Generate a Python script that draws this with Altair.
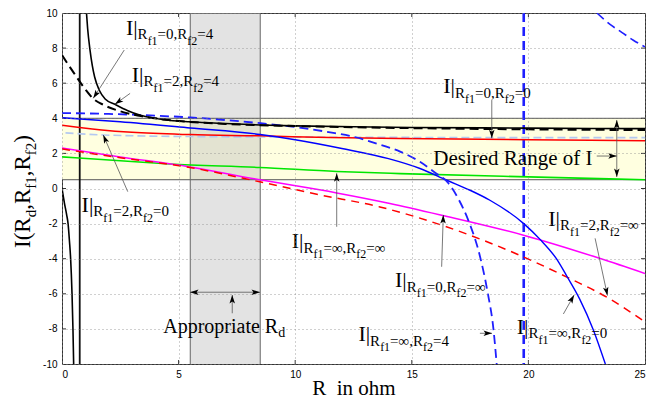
import math
import altair as alt
import pandas as pd

# ---------------- data ----------------
x_ticks = [0, 5, 10, 15, 20, 25]
y_ticks = [-10, -8, -6, -4, -2, 0, 2, 4, 6, 8, 10]

desired_range = [0.5, 4.0]      # "Desired Range of I"
appropriate_rd = [5.5, 8.5]     # "Appropriate R_d"

asym_black_x = [0.76]
asym_blue_x = [19.8]

k_solid_r_x = [1.05, 1.1, 1.2, 1.3, 1.4, 1.6, 1.85, 2.27, 2.8, 3.3, 4.4, 5.5, 7.0, 8.5, 10.0, 12.5, 15.0, 20.0, 25.0]
k_solid_r_y = [10.0, 9.1, 7.9, 7.0, 6.35, 5.6, 5.1, 4.8, 4.45, 4.2, 3.92, 3.8, 3.7, 3.62, 3.57, 3.52, 3.48, 3.44, 3.41]
k_solid_l_x = [0.0, 0.1, 0.2, 0.26, 0.32, 0.37, 0.43, 0.47, 0.5]
k_solid_l_y = [0.0, -0.8, -1.5, -2.0, -3.0, -4.0, -6.0, -8.0, -10.0]

k_dash_x = [0.0, 0.5, 1.0, 1.33, 1.8, 2.5, 3.5, 5.0, 7.0, 10.0, 15.0, 20.0, 25.0]
k_dash_y = [7.6, 6.6, 5.65, 5.13, 4.75, 4.4, 4.1, 3.85, 3.68, 3.56, 3.44, 3.37, 3.33]

b_dash_x = [0.0, 2.0, 4.0, 5.5, 7.0, 8.5, 10.0, 11.5, 12.5, 13.5, 14.5, 15.35, 16.0, 16.57, 17.0, 17.42, 17.93, 18.25, 18.5, 18.64]
b_dash_y = [4.3, 4.25, 4.15, 4.05, 3.9, 3.72, 3.5, 3.2, 2.95, 2.56, 2.1, 1.52, 0.9, 0.3, -0.6, -1.8, -3.9, -5.9, -8.0, -10.0]
b_dash2_x = [22.94, 23.5, 24.0, 24.5, 25.0]
b_dash2_y = [10.0, 9.35, 8.9, 8.45, 8.07]

b_solid_x = [0.0, 2.5, 5.5, 8.5, 10.0, 12.0, 14.0, 15.35, 16.5, 17.5, 18.35, 19.8, 20.5, 21.2, 21.65, 22.2, 22.79, 23.3]
b_solid_y = [4.03, 3.8, 3.45, 3.08, 2.78, 2.28, 1.7, 1.14, 0.47, -0.1, -0.67, -2.0, -2.9, -4.0, -5.0, -6.3, -8.07, -10.0]

r_solid_x = [0.0, 1.6, 3.0, 5.5, 8.5, 11.5, 14.5, 20.0, 25.0]
r_solid_y = [3.6, 3.35, 3.2, 3.07, 3.0, 2.9, 2.85, 2.78, 2.72]

lb_dash_x = [0.15, 1.76, 5.5, 10.0, 15.0, 20.0, 25.0]
lb_dash_y = [3.17, 3.05, 2.96, 2.93, 2.91, 2.9, 2.9]

g_solid_x = [0.0, 2.5, 4.62, 8.48, 11.78, 14.5, 20.0, 25.0]
g_solid_y = [1.8, 1.58, 1.4, 1.2, 0.97, 0.85, 0.66, 0.5]

m_solid_x = [0.0, 2.5, 5.48, 8.48, 11.78, 14.06, 16.28, 19.79, 23.08, 25.0]
m_solid_y = [2.31, 1.8, 1.23, 0.5, -0.25, -0.85, -1.52, -2.66, -3.99, -4.84]

r_dash_x = [0.0, 2.5, 5.48, 8.48, 11.0, 13.63, 16.28, 19.79, 21.65, 23.37, 25.0]
r_dash_y = [2.25, 1.75, 1.2, 0.38, -0.35, -1.05, -2.09, -3.9, -5.05, -6.2, -7.6]

# annotation arrows: start (x, y) -> tip (x, y), double-headed?
arrows = [
    (2.67, 7.89, 1.34, 5.14, False),
    (2.92, 5.42, 2.27, 4.80, False),
    (18.43, 5.04, 18.43, 2.86, False),
    (22.93, 1.85, 23.79, 1.85, False),
    (23.79, 3.90, 23.79, 0.66, True),
    (2.82, -0.18, 1.77, 3.05, False),
    (11.78, -2.18, 11.78, 0.87, False),
    (16.28, -4.46, 16.35, -1.51, False),
    (22.86, -2.84, 23.39, -6.10, False),
    (17.92, -8.25, 18.44, -8.25, False),
    (21.50, -7.15, 21.96, -6.07, False),
    (5.49, -5.91, 8.49, -5.91, True),
    (7.30, -7.11, 7.30, -6.07, False),
]

# curve labels: (x, y of "I|" baseline), R_f1 value, R_f2 value
INF = "\u221e"
curve_labels = [
    (2.74, 8.75, "0", "4"),
    (2.99, 6.09, "2", "4"),
    (16.35, 5.42, "0", "0"),
    (0.84, -1.32, "2", "0"),
    (9.85, -3.41, INF, INF),
    (14.28, -5.63, "0", INF),
    (20.85, -2.12, "2", INF),
    (12.71, -8.69, INF, "4"),
    (19.50, -8.29, INF, "0"),
]

# ---------------- geometry / style ----------------
W, H = 583, 351
PXX = W / 25.0
PXY = H / 20.0
SERIF = "Liberation Serif"
SANS = "Liberation Sans"

CW = {"I": 0.333, "|": 0.2, "R": 0.667, "f": 0.333, "0": 0.5, "1": 0.5, "2": 0.5,
      "4": 0.5, "=": 0.564, ",": 0.25, INF: 0.713, "d": 0.5, "(": 0.333, ")": 0.333,
      " ": 0.25, "\u00a0": 0.25, "A": 0.722, "p": 0.5, "r": 0.333, "o": 0.5,
      "i": 0.278, "a": 0.444, "t": 0.278, "e": 0.444}

def tw(s, size):
    return sum(CW.get(c, 0.5) for c in s) * size

xs = alt.Scale(domain=[0, 25], nice=False, zero=False)
ys = alt.Scale(domain=[-10, 10], nice=False, zero=False)
x_axis = alt.Axis(values=x_ticks, title="R\u00a0\u00a0in ohm", grid=True, gridDash=[1, 3],
                  gridColor="#888", gridWidth=0.8, ticks=False, domain=False,
                  labelFont=SANS, labelFontSize=10, labelColor="black", labelPadding=5,
                  labelExpr="'' + datum.value",
                  titleFont=SERIF, titleFontSize=21, titleFontWeight="normal",
                  titleColor="black", titleY=30, titleBaseline="alphabetic", zindex=1)
y_axis = alt.Axis(values=y_ticks, title=None, grid=True, gridDash=[1, 3],
                  gridColor="#888", gridWidth=0.8, ticks=False, domain=False,
                  labelFont=SANS, labelFontSize=10, labelColor="black", labelPadding=5,
                  labelExpr="'' + datum.value", zindex=1)
X = alt.X("x:Q", scale=xs, axis=x_axis)
Y = alt.Y("y:Q", scale=ys, axis=y_axis)

layers = []

# bands
band_y = pd.DataFrame({"x": [0.0], "x2": [25.0], "y": [desired_range[0]], "y2": [desired_range[1]]})
layers.append(alt.Chart(band_y).mark_rect(color="#FFFFE0").encode(
    x=X, x2="x2:Q", y=Y, y2="y2:Q"))
band_g = pd.DataFrame({"x": [appropriate_rd[0]], "x2": [appropriate_rd[1]], "y": [-10.0], "y2": [10.0]})
layers.append(alt.Chart(band_g).mark_rect(color="#BDBDBD", opacity=0.42).encode(
    x=X, x2="x2:Q", y=Y, y2="y2:Q"))
layers.append(alt.Chart(pd.DataFrame({"y": desired_range})).mark_rule(
    color="#555", strokeWidth=1).encode(y=Y))
layers.append(alt.Chart(pd.DataFrame({"x": appropriate_rd})).mark_rule(
    color="#666", strokeWidth=1).encode(x=X))

# inward ticks
tick_rows = []
for t in x_ticks[1:-1]:
    tick_rows.append({"x": t, "x2": t, "y": -10.0, "y2": -10.0 + 4 / PXY})
    tick_rows.append({"x": t, "x2": t, "y": 10.0, "y2": 10.0 - 4 / PXY})
for t in y_ticks[1:-1]:
    tick_rows.append({"x": 0.0, "x2": 4 / PXX, "y": t, "y2": t})
    tick_rows.append({"x": 25.0, "x2": 25.0 - 4 / PXX, "y": t, "y2": t})
layers.append(alt.Chart(pd.DataFrame(tick_rows)).mark_rule(color="#333", strokeWidth=1).encode(
    x=X, x2="x2:Q", y=Y, y2="y2:Q"))

# vertical asymptotes
layers.append(alt.Chart(pd.DataFrame({"x": asym_black_x})).mark_rule(
    color="#111", strokeWidth=1.8).encode(x=X))
layers.append(alt.Chart(pd.DataFrame({"x": asym_blue_x})).mark_rule(
    color="#1f1fff", strokeWidth=2.6, strokeDash=[9, 5]).encode(x=X))

def line(xv, yv, color, width, dash=None):
    df = pd.DataFrame({"x": xv, "y": yv, "i": list(range(len(xv)))})
    kw = dict(color=color, strokeWidth=width, clip=True, interpolate="monotone")
    if dash:
        kw["strokeDash"] = dash
    return alt.Chart(df).mark_line(**kw).encode(x=X, y=Y, order=alt.Order("i:Q"))

layers += [
    line(g_solid_x, g_solid_y, "#00E600", 1.6),
    line(lb_dash_x, lb_dash_y, "#B4C8F0", 1.6, [8, 4]),
    line(r_solid_x, r_solid_y, "#FF0000", 1.5),
    line(m_solid_x, m_solid_y, "#FF00FF", 1.5),
    line(r_dash_x, r_dash_y, "#FF0000", 1.5, [8, 6]),
    line(b_solid_x, b_solid_y, "#0000FF", 1.4),
    line(b_dash_x, b_dash_y, "#1f1fff", 1.8, [9, 5]),
    line(b_dash2_x, b_dash2_y, "#1f1fff", 1.6, [9, 5]),
    line(k_solid_r_x, k_solid_r_y, "#000000", 1.6),
    line(k_solid_l_x, k_solid_l_y, "#000000", 1.6),
    line(k_dash_x, k_dash_y, "#000000", 2.0, [9, 5]),
]

# arrows
seg_rows, head_rows = [], []
HS = 100
half = math.sqrt(HS) / 2

def head(xa, ya, xb, yb):
    # head at (xb, yb) pointing from a to b (screen pixels)
    dxp = (xb - xa) * PXX
    dyp = -(yb - ya) * PXY
    n = math.hypot(dxp, dyp)
    ux, uy = dxp / n, dyp / n
    ang = math.degrees(math.atan2(ux, -uy)) % 360
    head_rows.append({"x": xb - ux * half / PXX, "y": yb + uy * half / PXY, "ang": ang})

for x1, y1, x2, y2, both in arrows:
    seg_rows.append({"x": x1, "y": y1, "x2": x2, "y2": y2})
    head(x1, y1, x2, y2)
    if both:
        head(x2, y2, x1, y1)

layers.append(alt.Chart(pd.DataFrame(seg_rows)).mark_rule(color="#555", strokeWidth=0.8).encode(
    x=X, y=Y, x2="x2:Q", y2="y2:Q"))
layers.append(alt.Chart(pd.DataFrame(head_rows)).mark_point(
    shape="M0,-1L0.55,0.7L0,0.3L-0.55,0.7Z", filled=True, color="black", opacity=1,
    size=HS, strokeWidth=0).encode(x=X, y=Y, angle=alt.Angle("ang:Q", scale=None)))

# text labels with sub / sub-sub scripts
text_rows = []
LV = {0: (22, 0.0), 1: (15, 4.5), 2: (12, 10.0)}

def build(x0, y0, pieces, levels):
    dx = 0.0
    for txt, lvl in pieces:
        size, dy = levels[lvl]
        text_rows.append({"x": x0 + dx / PXX, "y": y0 - dy / PXY, "text": txt, "size": size})
        dx += tw(txt, size)

for x0, y0, a, b in curve_labels:
    build(x0, y0, [("I|", 0), ("R", 1), ("f1", 2), ("=" + a + ",", 1),
                   ("R", 1), ("f2", 2), ("=" + b, 1)], LV)
build(15.92, 1.34, [("Desired Range of I", 0)], {0: (21, 0.0)})
build(4.34, -8.25, [("Appropriate R", 0), ("d", 1)],
      {0: (20, 0.0), 1: (14, 4.0)})

layers.append(alt.Chart(pd.DataFrame(text_rows)).mark_text(
    align="left", baseline="alphabetic", font=SERIF, color="black").encode(
    x=X, y=Y, text="text:N", size=alt.Size("size:Q", scale=None)))

# rotated y-axis title I(R_d, R_f1, R_f2)
yt_rows = []
x0 = -32 / PXX
y0 = 10 - 235 / PXY
cum = 0.0
for txt, sub in [("I(", 0), ("R", 0), ("d", 1), (",", 0), ("R", 0), ("f1", 1),
                 (",", 0), ("R", 0), ("f2", 1), (")", 0)]:
    size = 15 if sub else 23
    off = 6 if sub else 0
    yt_rows.append({"x": x0 + off / PXX, "y": y0 + cum / PXY, "text": txt, "size": size})
    cum += tw(txt, size)
layers.append(alt.Chart(pd.DataFrame(yt_rows)).mark_text(
    align="left", baseline="alphabetic", font=SERIF, color="black", angle=270).encode(
    x=X, y=Y, text="text:N", size=alt.Size("size:Q", scale=None)))

chart = alt.layer(*layers).properties(
    width=W, height=H,
    autosize=alt.AutoSizeParams(type="none"),
    padding={"left": 54, "top": 5, "right": 10, "bottom": 36},
    background="white",
).configure_view(stroke="#333", strokeWidth=1)

chart.save("out.html", embed_options={"renderer": "svg", "actions": False})
